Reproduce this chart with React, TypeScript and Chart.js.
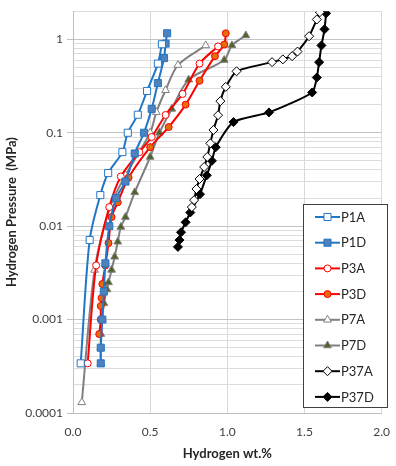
import React, { useEffect, useRef } from 'react';
import { Chart, registerables } from 'chart.js';

Chart.register(...registerables);

const FONT = 'Lato, "Open Sans", "DejaVu Sans", sans-serif';

// ---- data (Hydrogen wt.% , Hydrogen pressure MPa) ----
const p1aX = [0.05, 0.108, 0.177, 0.228, 0.32, 0.355, 0.42, 0.48, 0.55, 0.576];
const p1aY = [0.00034, 0.0071, 0.0215, 0.037, 0.062, 0.1, 0.156, 0.28, 0.55, 0.885];

const p1dX = [0.18, 0.18, 0.19, 0.2, 0.21, 0.235, 0.28, 0.34, 0.4, 0.46, 0.51, 0.55, 0.59, 0.6, 0.61];
const p1dY = [0.00034, 0.0005, 0.001, 0.002, 0.004, 0.01, 0.02, 0.03, 0.06, 0.1, 0.18, 0.34, 0.63, 0.9, 1.16];

const p3aX = [0.095, 0.15, 0.235, 0.31, 0.43, 0.51, 0.6, 0.71, 0.82, 0.94];
const p3aY = [0.00034, 0.0038, 0.016, 0.034, 0.062, 0.09, 0.155, 0.26, 0.55, 0.84];

const p3dX = [0.17, 0.18, 0.18, 0.185, 0.19, 0.21, 0.23, 0.25, 0.29, 0.36, 0.5, 0.62, 0.73, 0.82, 0.92, 0.98, 0.99];
const p3dY = [0.0007, 0.001, 0.0014, 0.0017, 0.0024, 0.0038, 0.0066, 0.0125, 0.018, 0.033, 0.07, 0.115, 0.2, 0.36, 0.66, 0.88, 1.16];

const p7aX = [0.057, 0.14, 0.24, 0.34, 0.5, 0.54, 0.6, 0.68, 0.86];
const p7aY = [0.00013, 0.0034, 0.016, 0.035, 0.1, 0.166, 0.285, 0.53, 0.86];

const p7dX = [0.18, 0.18, 0.18, 0.19, 0.2, 0.22, 0.23, 0.25, 0.27, 0.29, 0.31, 0.34, 0.4, 0.5, 0.56, 0.64, 0.75, 0.98, 1.03, 1.12];
const p7dY = [0.00034, 0.0005, 0.0007, 0.001, 0.0015, 0.0021, 0.0025, 0.0034, 0.0047, 0.0068, 0.0098, 0.0125, 0.023, 0.055, 0.1, 0.18, 0.37, 0.6, 0.86, 1.1];

const p37aX = [0.77, 0.785, 0.8, 0.82, 0.85, 0.87, 0.89, 0.91, 0.94, 0.955, 0.99, 1.06, 1.29, 1.36, 1.42, 1.455, 1.53, 1.58, 1.6];
const p37aY = [0.016, 0.019, 0.025, 0.032, 0.043, 0.055, 0.077, 0.107, 0.154, 0.218, 0.31, 0.455, 0.57, 0.61, 0.66, 0.74, 1.08, 1.63, 1.95];

const p37dX = [0.68, 0.69, 0.7, 0.73, 0.76, 0.823, 0.867, 0.9, 0.925, 1.04, 1.27, 1.55, 1.58, 1.595, 1.61, 1.63, 1.64];
const p37dY = [0.006, 0.0071, 0.0086, 0.011, 0.014, 0.022, 0.035, 0.05, 0.07, 0.13, 0.165, 0.27, 0.39, 0.57, 0.86, 1.28, 1.9];

const seriesNames = ['P1A', 'P1D', 'P3A', 'P3D', 'P7A', 'P7D', 'P37A', 'P37D'];
const xTickValues = [0, 0.5, 1, 1.5, 2];
const xTickLabels = ['0.0', '0.5', '1.0', '1.5', '2.0'];
const yDecades = [0.0001, 0.001, 0.01, 0.1, 1];
const yTickLabels = ['0.0001', '0.001', '0.01', '0.1', '1'];
const yMin = 0.0001;
const yMax = 2;
const xTitle = 'Hydrogen wt.%';
const yTitle = 'Hydrogen Pressure  (MPa)';

const BLUE = '#2276C6';
const RED = '#FF0000';
const GRAY = '#808080';
const BLACK = '#000000';

function toPoints(xs: number[], ys: number[]) {
  return xs.map((x, i) => ({ x, y: ys[i] }));
}

function isDecade(v: number) {
  const l = Math.log10(v);
  return Math.abs(l - Math.round(l)) < 1e-6;
}

function yGridValues(): number[] {
  const out: number[] = [];
  for (let e = -4; e <= 0; e++) {
    for (let m = 1; m <= 9; m++) {
      const v = m * Math.pow(10, e);
      if (v >= yMin - 1e-12 && v <= yMax + 1e-9) out.push(v);
    }
  }
  out.push(yMax);
  return out;
}

function drawMarker(ctx: CanvasRenderingContext2D, style: string, x: number, y: number, r: number, fill: string, stroke: string, lw: number) {
  ctx.save();
  ctx.beginPath();
  if (style === 'rect') {
    const s = r * Math.SQRT1_2;
    ctx.rect(x - s, y - s, 2 * s, 2 * s);
  } else if (style === 'circle') {
    ctx.arc(x, y, r, 0, Math.PI * 2);
  } else if (style === 'triangle') {
    ctx.moveTo(x, y - r);
    ctx.lineTo(x + r * Math.sin((2 * Math.PI) / 3), y - r * Math.cos((2 * Math.PI) / 3));
    ctx.lineTo(x + r * Math.sin((4 * Math.PI) / 3), y - r * Math.cos((4 * Math.PI) / 3));
    ctx.closePath();
  } else if (style === 'rectRot') {
    ctx.moveTo(x - r, y);
    ctx.lineTo(x, y - r);
    ctx.lineTo(x + r, y);
    ctx.lineTo(x, y + r);
    ctx.closePath();
  }
  ctx.fillStyle = fill;
  ctx.fill();
  ctx.lineWidth = lw;
  ctx.strokeStyle = stroke;
  ctx.stroke();
  ctx.restore();
}

const legendBoxPlugin = {
  id: 'legendBox',
  afterDraw(chart: any) {
    const ctx: CanvasRenderingContext2D = chart.ctx;
    const left = 303;
    const top = 204;
    const w = 84;
    const h = 203;
    ctx.save();
    ctx.fillStyle = '#ffffff';
    ctx.fillRect(left, top, w, h);
    ctx.strokeStyle = '#404040';
    ctx.lineWidth = 1;
    ctx.strokeRect(left + 0.5, top + 0.5, w, h);
    const rowH = 25.7;
    chart.data.datasets.forEach((ds: any, i: number) => {
      const cy = top + 13 + i * rowH;
      ctx.beginPath();
      ctx.strokeStyle = ds.borderColor;
      ctx.lineWidth = 2;
      ctx.moveTo(left + 12, cy);
      ctx.lineTo(left + 37, cy);
      ctx.stroke();
      drawMarker(ctx, ds.pointStyle, left + 24.5, cy, ds.pointRadius, ds.pointBackgroundColor, ds.pointBorderColor, ds.pointBorderWidth);
      ctx.fillStyle = '#262626';
      ctx.font = `13px ${FONT}`;
      ctx.textBaseline = 'middle';
      ctx.textAlign = 'left';
      ctx.fillText(ds.label, left + 38, cy + 0.5);
    });
    ctx.restore();
  },
};

function makeDataset(i: number, xs: number[], ys: number[], line: string, style: string, r: number, fill: string, stroke: string, tension: number) {
  return {
    label: seriesNames[i],
    data: toPoints(xs, ys),
    showLine: true,
    borderColor: line,
    backgroundColor: line,
    borderWidth: 2,
    tension,
    pointStyle: style,
    pointRadius: r,
    pointHoverRadius: r,
    pointBackgroundColor: fill,
    pointBorderColor: stroke,
    pointBorderWidth: 1,
  };
}

export default function App() {
  const ref = useRef<HTMLCanvasElement | null>(null);

  useEffect(() => {
    document.body.style.margin = '0';
    const canvas = ref.current;
    if (!canvas) return;
    const gridVals = yGridValues();
    const datasets = [
      makeDataset(0, p1aX, p1aY, BLUE, 'rect', 5, '#ffffff', BLUE, 0.3),
      makeDataset(1, p1dX, p1dY, BLUE, 'rect', 5, '#4F81BD', BLUE, 0.3),
      makeDataset(2, p3aX, p3aY, RED, 'circle', 3.5, '#ffffff', RED, 0.3),
      makeDataset(3, p3dX, p3dY, RED, 'circle', 3.5, '#E46C0A', RED, 0.3),
      makeDataset(4, p7aX, p7aY, GRAY, 'triangle', 4.5, '#ffffff', GRAY, 0.3),
      makeDataset(5, p7dX, p7dY, GRAY, 'triangle', 4.5, '#4F6228', GRAY, 0.3),
      makeDataset(6, p37aX, p37aY, BLACK, 'rectRot', 4.5, '#ffffff', BLACK, 0.2),
      makeDataset(7, p37dX, p37dY, BLACK, 'rectRot', 4.5, BLACK, BLACK, 0.2),
    ];
    const chart = new Chart(canvas, {
      type: 'scatter',
      data: { datasets: datasets as any },
      options: {
        animation: false,
        responsive: false,
        maintainAspectRatio: false,
        layout: { padding: { top: 11, right: 7, left: 0, bottom: 0 } },
        plugins: {
          legend: { display: false },
          tooltip: { enabled: false },
        },
        scales: {
          x: {
            type: 'linear',
            min: 0,
            max: 2,
            afterBuildTicks: (s: any) => {
              s.ticks = xTickValues.map((v) => ({ value: v }));
            },
            afterFit: (s: any) => {
              s.height = 53;
            },
            ticks: {
              autoSkip: false,
              maxRotation: 0,
              padding: 6,
              color: '#404040',
              font: { family: FONT, size: 12 },
              callback: (v: any) => {
                const idx = xTickValues.findIndex((t) => Math.abs(t - Number(v)) < 1e-9);
                return idx >= 0 ? xTickLabels[idx] : '';
              },
            },
            grid: { color: '#d9d9d9', lineWidth: 1, tickLength: 6, tickColor: 'rgba(0,0,0,0)' },
            border: { color: '#bfbfbf' },
            title: {
              display: true,
              text: xTitle,
              color: '#262626',
              font: { family: FONT, size: 13, weight: 'bold' },
              padding: { top: 0, bottom: 4 },
            },
          },
          y: {
            type: 'logarithmic',
            min: yMin,
            max: yMax,
            afterBuildTicks: (s: any) => {
              s.ticks = gridVals.map((v) => ({ value: v }));
            },
            afterFit: (s: any) => {
              s.width = 73;
            },
            ticks: {
              autoSkip: false,
              padding: 4,
              color: '#404040',
              font: { family: FONT, size: 12 },
              callback: (v: any) => {
                const n = Number(v);
                const idx = yDecades.findIndex((d) => Math.abs(d - n) / d < 1e-6);
                return idx >= 0 ? yTickLabels[idx] : '';
              },
            },
            grid: {
              color: (c: any) => (c.tick && isDecade(c.tick.value) ? '#c4c4c4' : '#dcdcdc'),
              tickColor: (c: any) => (c.tick && isDecade(c.tick.value) ? '#bfbfbf' : 'rgba(0,0,0,0)'),
              lineWidth: 1,
              tickLength: 6,
            },
            border: { color: '#bfbfbf' },
            title: {
              display: true,
              text: yTitle,
              color: '#262626',
              font: { family: FONT, size: 13, weight: 'bold' },
              padding: { top: 4, bottom: 0 },
            },
          },
        },
      } as any,
      plugins: [legendBoxPlugin],
    });
    return () => {
      chart.destroy();
    };
  }, []);

  return (
    <div style={{ width: 396, height: 466 }}>
      <canvas ref={ref} width={396} height={466} style={{ display: 'block', width: 396, height: 466 }} />
    </div>
  );
}
